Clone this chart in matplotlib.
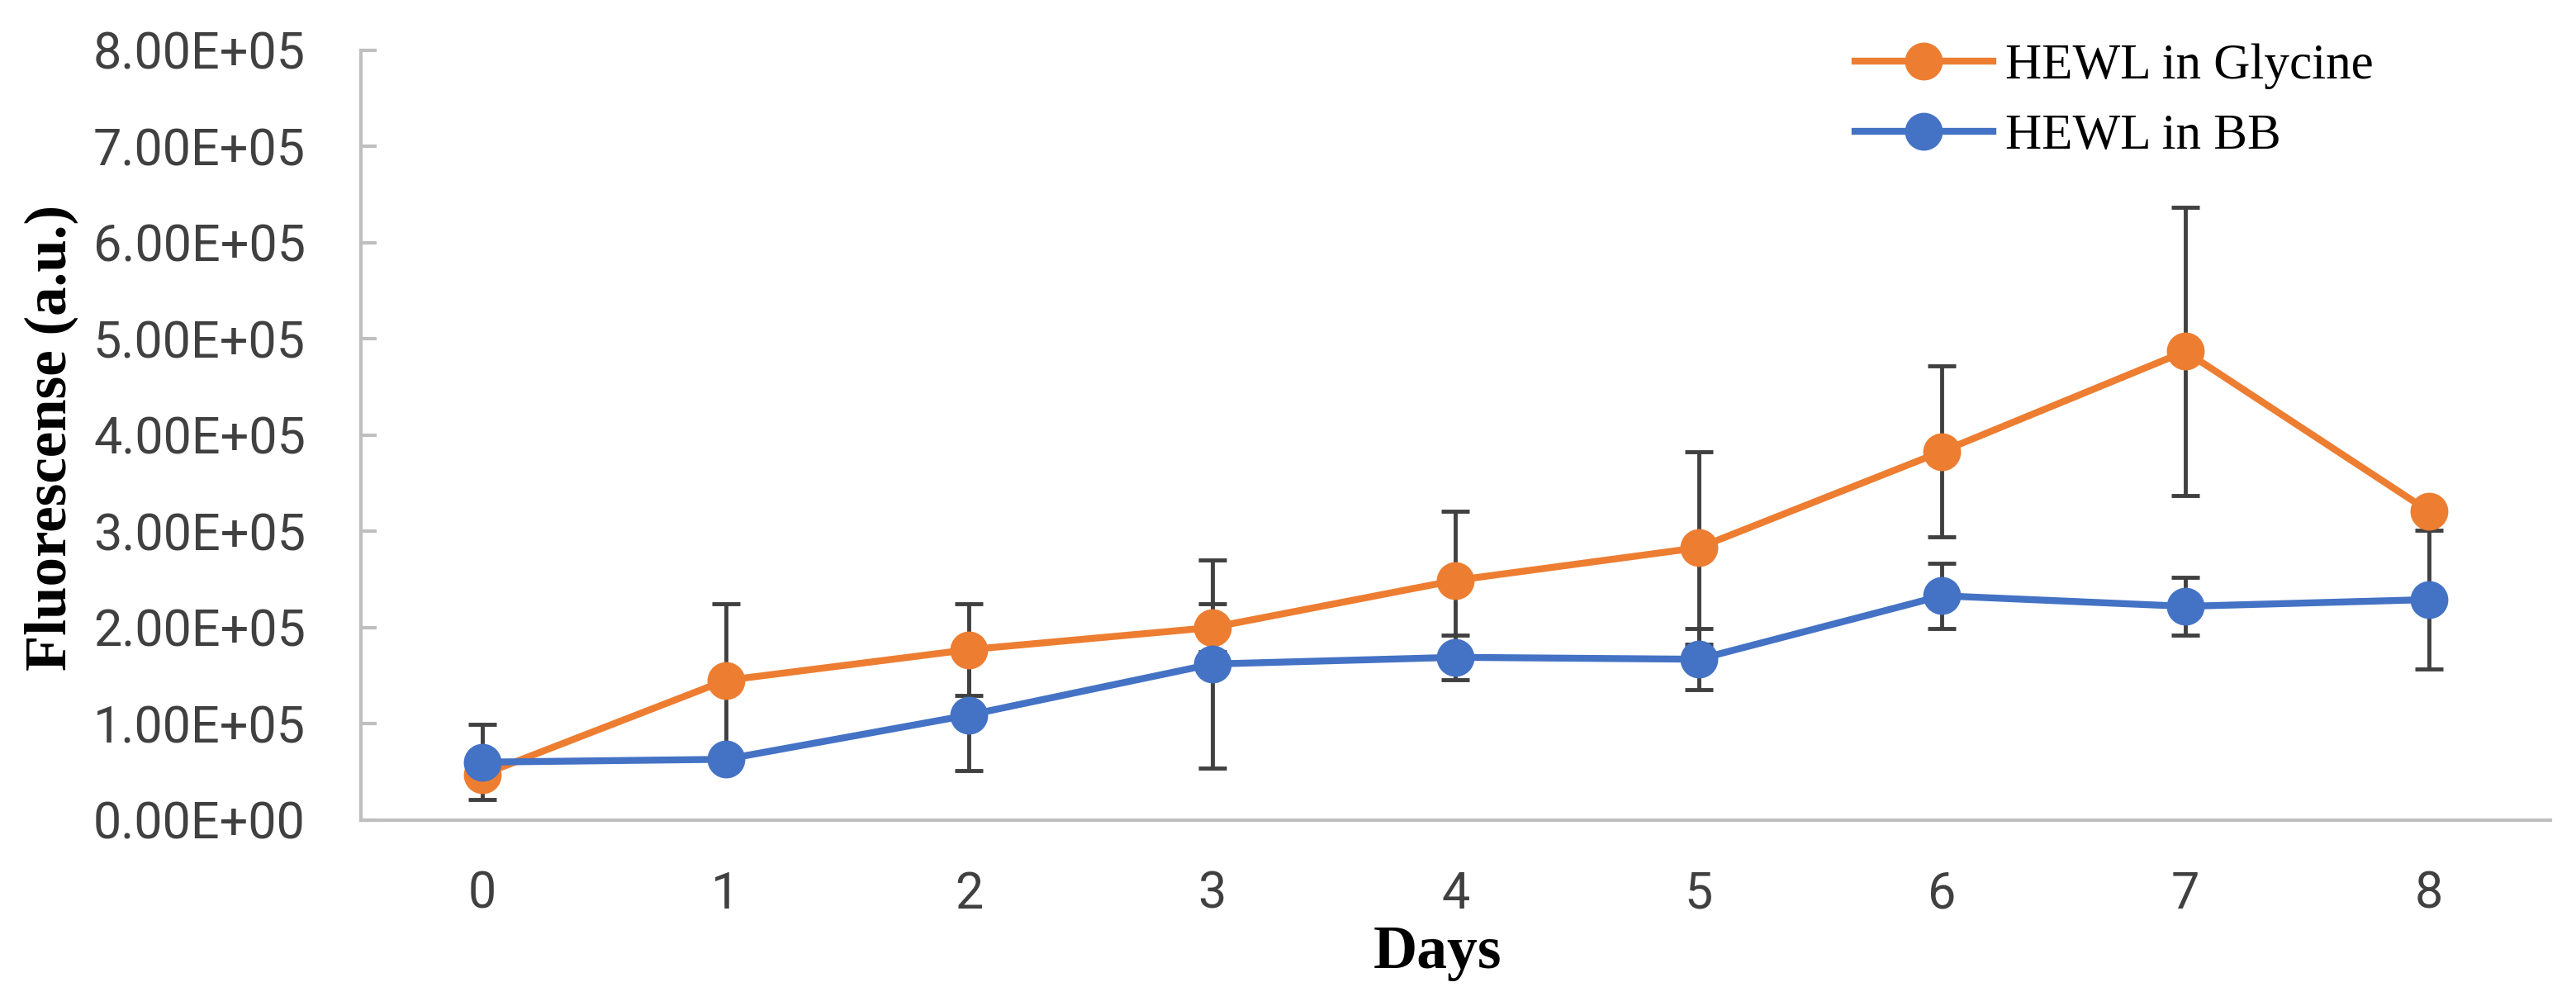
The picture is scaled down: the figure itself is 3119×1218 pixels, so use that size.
import numpy as np
import matplotlib
matplotlib.use('Agg')
import matplotlib.pyplot as plt
from matplotlib.ticker import FuncFormatter, MultipleLocator

# Données (unités : 1e5)
days = [0, 1, 2, 3, 4, 5, 6, 7, 8]
glycine = [0.47, 1.45, 1.77, 2.00, 2.49, 2.83, 3.83, 4.87, 3.21]
glycine_err = [0.05, 0.80, 0.48, 0.25, 0.72, 1.00, 0.89, 1.50, 0.10]
bb = [0.60, 0.63, 1.09, 1.62, 1.69, 1.67, 2.33, 2.22, 2.29]
bb_err = [0.39, 0.05, 0.58, 1.08, 0.23, 0.32, 0.34, 0.30, 0.72]
labels = ['HEWL in Glycine', 'HEWL in BB']

orange = '#ED7D31'
blue = '#4472C4'
grey = '#404040'

scale = 1e5
fig = plt.figure(figsize=(31.19, 12.18), dpi=100)
ax = fig.add_axes([0.140, 0.185, 0.850, 0.765])

g = np.array(glycine) * scale
b = np.array(bb) * scale

# Barres d'erreur sous les courbes
ax.errorbar(days, g, yerr=np.array(glycine_err) * scale, fmt='none', ecolor=grey,
            elinewidth=3.5, capsize=12, capthick=3.5, zorder=1)
ax.errorbar(days, b, yerr=np.array(bb_err) * scale, fmt='none', ecolor=grey,
            elinewidth=3.5, capsize=12, capthick=3.5, zorder=1)

l1, = ax.plot(days, g, color=orange, lw=6, marker='o', ms=32, zorder=2, label=labels[0])
l2, = ax.plot(days, b, color=blue, lw=6, marker='o', ms=32, zorder=3, label=labels[1])

ax.set_xlim(-0.5, 8.5)
ax.set_ylim(0, 8e5)
ax.set_xticks(days)
ax.yaxis.set_major_locator(MultipleLocator(1e5))
ax.yaxis.set_major_formatter(FuncFormatter(lambda v, p: f'{v:.2E}'))

for s in ['top', 'right']:
    ax.spines[s].set_visible(False)
for s in ['left', 'bottom']:
    ax.spines[s].set_color('#BFBFBF')
    ax.spines[s].set_linewidth(3)

ax.tick_params(axis='y', direction='in', length=14, width=3, color='#BFBFBF',
               labelsize=44, labelcolor=grey, pad=48)
ax.tick_params(axis='x', length=0, labelsize=44, labelcolor=grey, pad=44)
for t in ax.get_xticklabels() + ax.get_yticklabels():
    t.set_family('Roboto')

fig.text(0.0256, 0.565, 'Fluorescense (a.u.)', rotation=90, rotation_mode='anchor',
         ha='center', va='baseline', family='Liberation Serif', weight='bold', fontsize=51)
fig.text(0.558, 0.038, 'Days', ha='center', va='baseline',
         family='Liberation Serif', weight='bold', fontsize=53)

ax.legend(handles=[l1, l2], loc='upper left', bbox_to_anchor=(0.720, 0.957),
          bbox_transform=fig.transFigure, frameon=False, borderpad=0, borderaxespad=0,
          handlelength=2.74, handletextpad=0.25, labelspacing=0.48,
          prop={'family': 'Liberation Serif', 'size': 44})

fig.savefig('out.png', dpi=100)
